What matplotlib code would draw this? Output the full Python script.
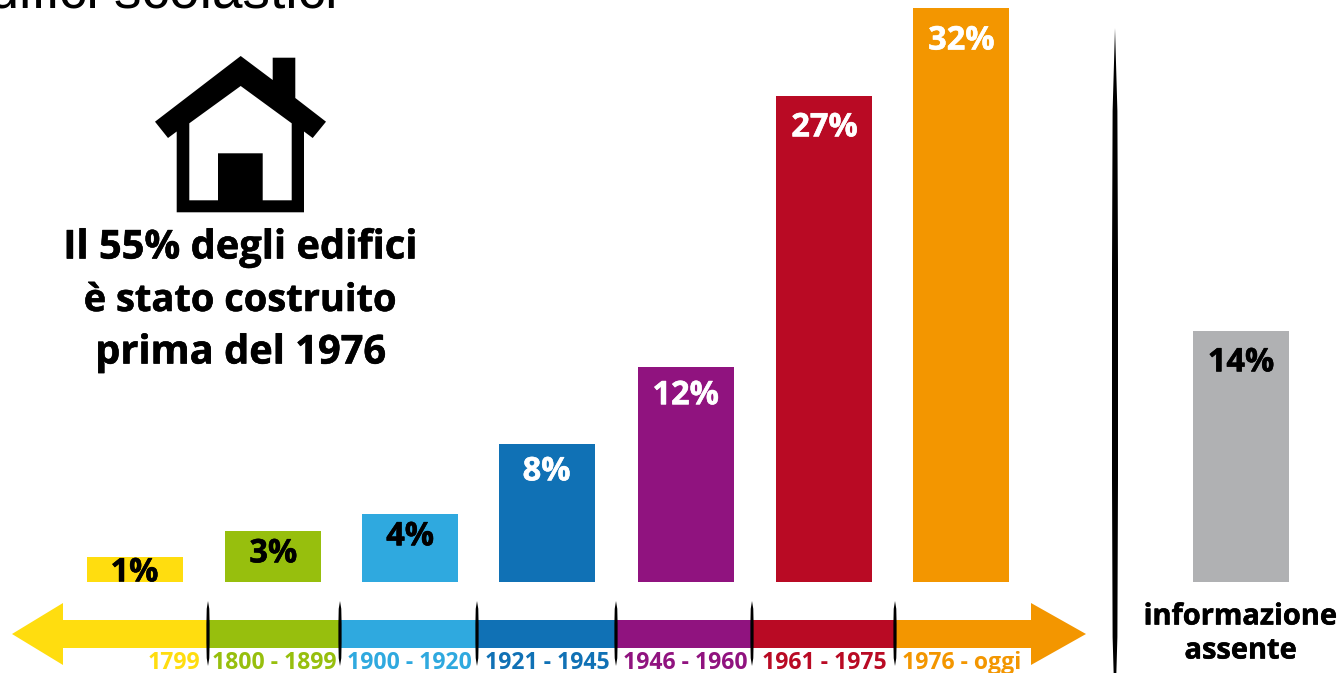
import numpy as np
import matplotlib
matplotlib.use("Agg")
import matplotlib.pyplot as plt
import matplotlib.patheffects as pe
from matplotlib.patches import Polygon

W, H = 1342, 673

# dati
periods = ["1799", "1800 - 1899", "1900 - 1920", "1921 - 1945", "1946 - 1960", "1961 - 1975", "1976 - oggi"]
labels = ["1%", "3%", "4%", "8%", "12%", "27%", "32%", "14%"]
heights = [1.4, 2.85, 3.8, 7.7, 12.0, 27.1, 32.0, 14.0]
slots = [0, 1.007, 2, 2.99, 4, 5.007, 6, 8.03]
colors = ["#FFDD0F", "#97BF0D", "#2FA9DF", "#1071B5", "#90137F", "#B90A24", "#F39600", "#B0B1B3"]
label_colors = ["black", "black", "black", "white", "white", "white", "white", "black"]
label_drop = [16, 23, 23, 28, 29, 32, 33, 32]  # px sotto la cima della barra

# layout in pixel
seps = [208, 340, 477, 616, 752, 895]
period_x = [174, 274, 409, 547, 685, 824, 962]
slot_px = 137.8
first_px = 134.5
bar_px = 96

FONT = "Open Sans"


def fs(px):
    return px * 0.72


def heavy(color):
    return [pe.withStroke(linewidth=0.4, foreground=color)]


fig = plt.figure(figsize=(W / 100, H / 100), dpi=100, facecolor="white")

# assi delle barre
ax = fig.add_axes([0, 1 - 582 / H, 1, (582 - 8) / H])
ax.set_xlim(-first_px / slot_px, (W - first_px) / slot_px)
ax.set_ylim(0, 32)
ax.axis("off")
ax.bar(slots, heights, width=bar_px / slot_px, color=colors, linewidth=0)
for s, h, t, c, d in zip(slots, heights, labels, label_colors, label_drop):
    ax.annotate(t, (s, h), xytext=(0, -d * 0.72), textcoords="offset points",
                ha="center", va="center", color=c, fontsize=fs(32.5), fontweight="bold",
                family=FONT, annotation_clip=False, path_effects=heavy(c))

# overlay in pixel per freccia, casa e testi
ov = fig.add_axes([0, 0, 1, 1], facecolor="none")
ov.set_xlim(0, W)
ov.set_ylim(H, 0)
ov.axis("off")


def spindle(x, y0, y1, w):
    h = y1 - y0
    ys = np.array([y0, y0 + h * 0.12, y0 + h * 0.35, y1 - h * 0.35, y1 - h * 0.12, y1])
    hw = np.array([0, 0.8, 1, 1, 0.8, 0]) * w / 2
    pts = list(zip(x - hw, ys)) + list(zip(x + hw[::-1], ys[::-1]))
    ov.add_patch(Polygon(pts, closed=True, fc="black", ec="none", zorder=5))


# freccia temporale
edges = [62] + seps + [1031]
for i in range(7):
    ov.add_patch(Polygon([(edges[i], 620), (edges[i + 1], 620), (edges[i + 1], 648), (edges[i], 648)],
                         closed=True, fc=colors[i], ec="none", zorder=2))
ov.add_patch(Polygon([(12, 634), (63, 603), (63, 665)], closed=True, fc=colors[0], ec="none", zorder=2))
ov.add_patch(Polygon([(1086, 634), (1031, 603), (1031, 665)], closed=True, fc=colors[6], ec="none", zorder=2))
for x in seps:
    spindle(x, 601, 666, 3.2)
for x, t, c in zip(period_x, periods, colors):
    ov.text(x, 663, t, ha="center", va="center", color=c, fontsize=fs(23), fontweight="bold", family=FONT, zorder=4)

# separatore verticale
spindle(1115, 28, 720, 6)

# casa
ov.add_patch(Polygon([(240.7, 56), (272.7, 80), (272.7, 57.7), (295.3, 57.7), (295.3, 98), (326, 121.7),
                      (312.7, 138), (304, 131.5), (304, 212.3), (176.7, 212.3), (176.7, 131.5), (168, 138),
                      (155, 121.7)], closed=True, fc="black", ec="none", zorder=3))
ov.add_patch(Polygon([(240.7, 86), (291.7, 123.3), (291.7, 200.3), (262.7, 200.3), (262.7, 153.3), (218, 153.3),
                      (218, 200.3), (189.3, 200.3), (189.3, 123.3)], closed=True, fc="white", ec="none", zorder=4))

# testi
for y, t, px in zip([248, 301, 353], ["Il 55% degli edifici", "è stato costruito", "prima del 1976"], [39.8, 38, 39.8]):
    ov.text(240.5, y, t, ha="center", va="center", fontsize=fs(px), fontweight="bold", family=FONT,
            color="black", path_effects=heavy("black"))
ov.text(1240.5, 617, "informazione", ha="center", va="center", fontsize=fs(29), fontweight="bold", family=FONT,
        color="black", path_effects=heavy("black"))
ov.text(1240.5, 651, "assente", ha="center", va="center", fontsize=fs(29), fontweight="bold", family=FONT,
        color="black", path_effects=heavy("black"))
ov.text(337, 7, "edifici scolastici", ha="right", va="baseline", fontsize=fs(55), family="Liberation Sans", color="black")

fig.savefig("out.png", dpi=100)
